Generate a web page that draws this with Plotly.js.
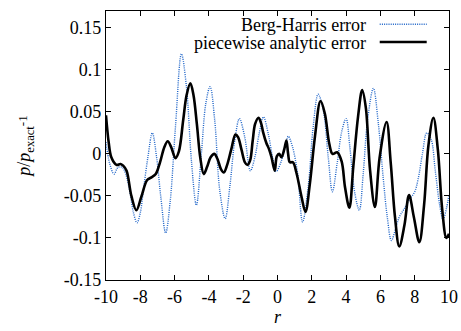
<!DOCTYPE html>
<html>
<head>
<meta charset="utf-8">
<script src="https://cdn.plot.ly/plotly-3.0.1.min.js"></script>
<style>html,body{margin:0;padding:0;background:#fff;}#chart{width:461px;height:331px;}</style>
</head>
<body>
<div id="chart"></div>
<script>
// Berg-Harris error (blue dotted)
var bhX = [-10, -9.79, -9.53, -9.3, -9.05, -8.85, -8.6, -8.4, -8.19, -8.0, -7.8, -7.55, -7.3, -7.05, -6.8, -6.52, -6.25, -5.95, -5.6, -5.31, -5.02, -4.73, -4.44, -4.18, -3.93, -3.66, -3.37, -3.05, -2.78, -2.49, -2.22, -1.91, -1.58, -1.32, -1.07, -0.82, -0.54, -0.29, -0.08, 0.23, 0.49, 0.63, 0.88, 1.17, 1.46, 1.79, 2.08, 2.37, 2.67, 2.96, 3.2, 3.48, 3.74, 4.0, 4.22, 4.51, 4.77, 5.0, 5.25, 5.59, 5.88, 6.17, 6.4, 6.64, 6.9, 7.1, 7.4, 7.67, 8.0, 8.2, 8.45, 8.7, 8.95, 9.2, 9.45, 9.65, 9.85, 10];
var bhY = [0.014, -0.011, -0.024, -0.016, -0.016, -0.024, -0.046, -0.07, -0.082, -0.07, -0.04, -0.003, 0.025, -0.004, -0.052, -0.094, -0.055, 0.032, 0.119, 0.08, -0.008, -0.061, 0.0, 0.06, 0.08, 0.04, -0.043, -0.077, -0.039, 0.016, 0.042, 0.02, -0.02, -0.004, 0.024, 0.044, 0.024, -0.004, -0.021, -0.008, 0.012, 0.021, 0.008, -0.023, -0.081, -0.039, 0.032, 0.071, 0.052, -0.004, -0.045, -0.011, 0.026, 0.042, 0.008, -0.047, -0.067, -0.023, 0.04, 0.078, 0.036, -0.03, -0.075, -0.103, -0.088, -0.075, -0.065, -0.055, -0.045, -0.03, 0.0, 0.025, 0.018, -0.02, -0.06, -0.078, -0.065, -0.048];

// piecewise analytic error (black solid)
var paX = [-10, -9.85, -9.69, -9.39, -9.15, -9.0, -8.8, -8.52, -8.23, -7.94, -7.6, -7.35, -7.1, -6.85, -6.6, -6.4, -6.2, -5.95, -5.75, -5.5, -5.3, -5.08, -4.9, -4.7, -4.5, -4.3, -4.1, -3.9, -3.68, -3.5, -3.3, -3.13, -2.95, -2.7, -2.45, -2.3, -2.1, -1.9, -1.75, -1.6, -1.45, -1.3, -1.1, -0.95, -0.84, -0.65, -0.5, -0.35, -0.16, -0.04, 0.1, 0.23, 0.4, 0.52, 0.62, 0.72, 0.9, 1.11, 1.4, 1.63, 1.89, 2.18, 2.51, 2.76, 3.02, 3.21, 3.48, 3.74, 3.94, 4.19, 4.42, 4.7, 4.94, 5.15, 5.4, 5.68, 5.95, 6.36, 6.6, 6.85, 7.1, 7.4, 7.67, 7.95, 8.27, 8.55, 8.8, 9.09, 9.35, 9.6, 9.85, 10];
var paY = [0.046, 0.015, -0.004, -0.013, -0.012, -0.014, -0.02, -0.05, -0.067, -0.051, -0.031, -0.028, -0.024, -0.01, 0.008, 0.015, 0.008, -0.005, 0.003, 0.04, 0.07, 0.084, 0.07, 0.035, -0.005, -0.024, -0.015, -0.004, 0.0, -0.006, -0.018, -0.022, -0.014, 0.005, 0.023, 0.02, 0.005, -0.01, -0.013, -0.008, 0.015, 0.036, 0.043, 0.036, 0.026, 0.013, 0.006, -0.004, -0.02, -0.003, 0.0, -0.004, 0.006, 0.016, 0.0, -0.01, -0.01, -0.023, -0.051, -0.069, -0.035, 0.02, 0.063, 0.048, 0.012, 0.0, 0.002, -0.009, -0.04, -0.064, -0.015, 0.045, 0.076, 0.055, -0.02, -0.063, -0.005, 0.038, -0.01, -0.075, -0.11, -0.085, -0.049, -0.075, -0.105, -0.06, 0.01, 0.043, 0.005, -0.065, -0.1, -0.095];

var xTicks = [-10, -8, -6, -4, -2, 0, 2, 4, 6, 8, 10];
var xTickText = ["-10", "-8", "-6", "-4", "-2", "0", "2", "4", "6", "8", "10"];
var yTicks = [-0.15, -0.1, -0.05, 0, 0.05, 0.1, 0.15];
var yTickText = ["-0.15", "-0.1", "-0.05", "0", "0.05", "0.1", "0.15"];
var seriesNames = ["Berg-Harris error", "piecewise analytic error"];

var blue = "rgb(30,100,200)";
var FONT = "Liberation Serif";
var FS = 18;

var traces = [
  {x: bhX, y: bhY, mode: "lines", name: seriesNames[0], line: {color: blue, width: 1.4, dash: "1px,1.2px", shape: "spline", smoothing: 1}, showlegend: false},
  {x: paX, y: paY, mode: "lines", name: seriesNames[1], line: {color: "black", width: 2.6, shape: "spline", smoothing: 1}, showlegend: false}
];

var axisCommon = {
  showgrid: false, zeroline: false, showline: true, linecolor: "black", linewidth: 1.2,
  mirror: "ticks", ticks: "inside", ticklen: 5, tickcolor: "black", tickwidth: 1,
  tickfont: {family: FONT, size: FS, color: "black"}
};

var layout = {
  width: 461, height: 331,
  margin: {l: 106, r: 12, t: 11, b: 51},
  paper_bgcolor: "white", plot_bgcolor: "white",
  font: {family: FONT, size: FS, color: "black"},
  xaxis: Object.assign({}, axisCommon, {
    range: [-10, 10], tickmode: "array", tickvals: xTicks, ticktext: xTickText,
    title: {text: "<i>r</i>", font: {family: FONT, size: FS, color: "black"}, standoff: 3}
  }),
  yaxis: Object.assign({}, axisCommon, {
    range: [-0.15, 0.17], tickmode: "array", tickvals: yTicks, ticktext: yTickText,
    title: {text: "<i>p</i>/<i>p</i><sub>exact</sub><span style='font-size:13px;baseline-shift:3px'>-1</span>", font: {family: FONT, size: FS, color: "black"}, standoff: 28}
  }),
  annotations: [
    {xref: "paper", yref: "paper", x: 0.765, y: 0.947, xanchor: "right", yanchor: "middle", text: seriesNames[0], showarrow: false, font: {family: FONT, size: FS, color: "black"}},
    {xref: "paper", yref: "paper", x: 0.765, y: 0.881, xanchor: "right", yanchor: "middle", text: seriesNames[1], showarrow: false, font: {family: FONT, size: FS, color: "black"}}
  ],
  shapes: [
    {type: "line", xref: "paper", yref: "paper", x0: 0.798, x1: 0.935, y0: 0.9506, y1: 0.9506, line: {color: blue, width: 1.4, dash: "1px,1.2px"}},
    {type: "line", xref: "paper", yref: "paper", x0: 0.798, x1: 0.935, y0: 0.885, y1: 0.885, line: {color: "black", width: 2.6}}
  ]
};

Plotly.newPlot("chart", traces, layout, {displayModeBar: false, staticPlot: true});
</script>
</body>
</html>
